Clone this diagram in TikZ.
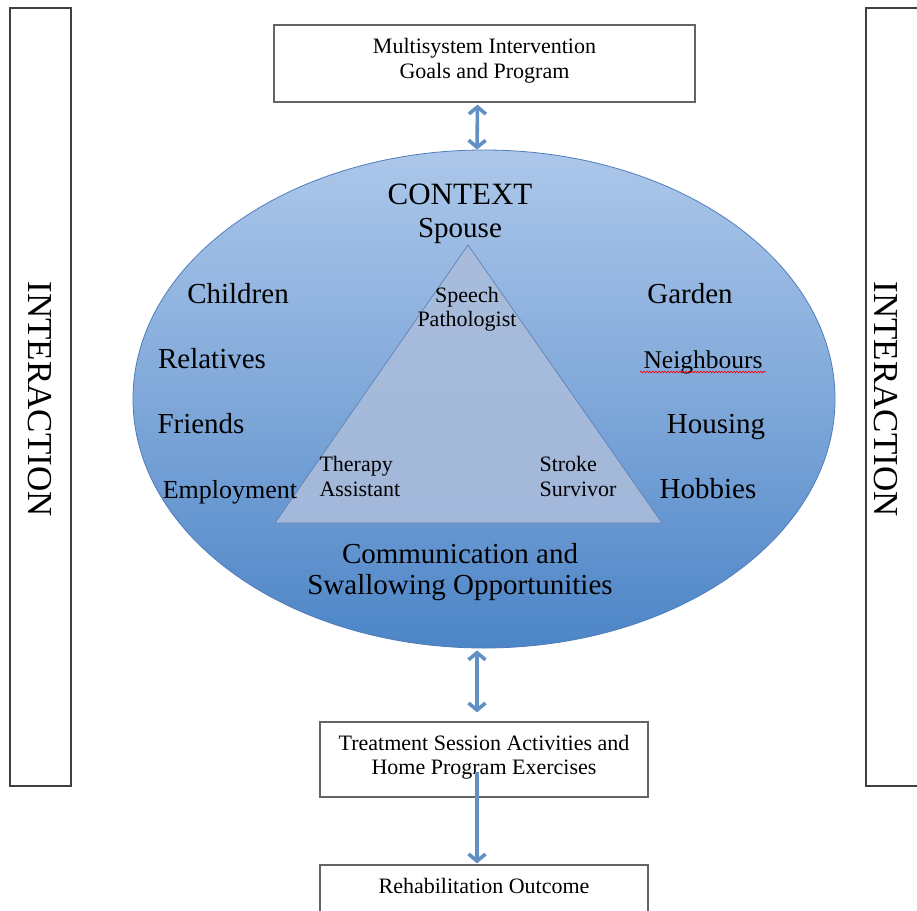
\documentclass[tikz,border=0pt]{standalone}
\usepackage{fontspec}
\setmainfont{Liberation Serif}
\usetikzlibrary{shapes.geometric,arrows.meta,decorations.pathmorphing}
\definecolor{arrblue}{RGB}{96,144,198}
\definecolor{elltop}{RGB}{172,199,234}
\definecolor{ellmid}{RGB}{128,168,217}
\definecolor{ellbot}{RGB}{76,133,199}
\definecolor{ellline}{RGB}{80,125,185}
\definecolor{trifill}{RGB}{170,188,219}
\definecolor{triline}{RGB}{95,130,185}
\definecolor{boxline}{RGB}{100,100,100}
\begin{document}
\begin{tikzpicture}[x=1pt,y=-1pt,
  box/.style={draw=boxline,line width=1.3pt,fill=white,inner sep=0pt},
  barbox/.style={draw=black!75,line width=1.6pt,fill=white,inner sep=0pt},
  arr/.style={draw=arrblue,line width=3.6pt},
  tip/.tip={Straight Barb[length=7pt,width=17pt,line width=3.6pt]},
  boxtext/.style={anchor=base,font=\fontsize{22}{26}\selectfont},
  tritext/.style={anchor=base,font=\fontsize{22}{26}\selectfont},
  sideword/.style={anchor=base,font=\fontsize{29}{33}\selectfont},
  bigtext/.style={anchor=base,font=\fontsize{29}{33}\selectfont},
  bartext/.style={rotate=-90,font=\fontsize{35}{40}\selectfont}
]
\useasboundingbox (0,0) rectangle (917,910);

% side bars
\node[barbox,minimum width=61pt,minimum height=778pt] (lbar) at (40.5,397) {};
\node[bartext] (ltext) at (40,399) {INTERACTION};
\node[barbox,minimum width=100pt,minimum height=778pt] (rbar) at (916,397) {};
\node[bartext] (rtext) at (886,399) {INTERACTION};

% top box
\node[box,minimum width=421pt,minimum height=77pt] (box1) at (484.5,63.5) {};
\node[boxtext] (t1a) at (484.5,53) {Multisystem Intervention};
\node[boxtext] (t1b) at (484.5,78) {Goals and Program};

% context ellipse
\node[ellipse,draw=ellline,line width=0.8pt,top color=elltop,bottom color=ellbot,middle color=ellmid,
      minimum width=702pt,minimum height=498pt,inner sep=0pt] (ell) at (484,399) {};

% triangle
\coordinate (apex) at (468,245);
\coordinate (bl) at (275,523);
\coordinate (br) at (662,523);
\draw[draw=triline,line width=0.7pt,fill=trifill,fill opacity=0.9] (apex) -- (bl) -- (br) -- cycle;

\node[anchor=base,font=\fontsize{31}{36}\selectfont] (context) at (460,204) {CONTEXT};
\node[bigtext] (spouse) at (460,237) {Spouse};

\node[tritext] (sp1) at (467,302) {Speech};
\node[tritext] (sp2) at (467,326) {Pathologist};
\node[tritext,anchor=base west] (ta1) at (316,471) {Therapy};
\node[tritext,anchor=base west] (ta2) at (316,496) {Assistant};
\node[tritext,anchor=base west] (ss1) at (536,471) {Stroke};
\node[tritext,anchor=base west] (ss2) at (536,496) {Survivor};

\node[sideword] (children) at (238,303) {Children};
\node[sideword] (relatives) at (212,368) {Relatives};
\node[sideword] (friends) at (201,433) {Friends};
\node[sideword,font=\fontsize{26}{30}\selectfont] (employment) at (230,498) {Employment};
\node[sideword] (garden) at (690,303) {Garden};
\node[sideword,font=\fontsize{25.5}{30}\selectfont] (neigh) at (703,368) {Neighbours};
\draw[red,line width=0.6pt,decorate,decoration={snake,amplitude=0.9pt,segment length=3pt}]
  ([yshift=-4pt]neigh.base west) -- ([yshift=-4pt]neigh.base east);
\node[sideword] (housing) at (716,433) {Housing};
\node[sideword] (hobbies) at (708,498) {Hobbies};

\node[bigtext] (comm1) at (460,563) {Communication and};
\node[bigtext] (comm2) at (460,594) {Swallowing Opportunities};

% lower boxes
\node[box,minimum width=328pt,minimum height=75pt] (box2) at (484,759.5) {};
\node[boxtext] (t2a) at (484,750) {Treatment Session Activities and};
\node[boxtext] (t2b) at (484,774) {Home Program Exercises};
\node[box,minimum width=328pt,minimum height=95pt] (box3) at (484,912.5) {};
\node[boxtext] (t3) at (484,893) {Rehabilitation Outcome};

% arrows
\draw[arr,{tip}-{tip}] ([xshift=-7pt,yshift=-2pt]box1.south) -- ([xshift=-7pt]ell.north);
\draw[arr,{tip}-{tip}] ([xshift=-7pt,yshift=-2pt]ell.south) -- ([xshift=-7pt,yshift=9pt]box2.north);
\coordinate (mid2) at (477,772);
\draw[arr,-{tip}] (mid2) -- ([xshift=-7pt,yshift=1pt]box3.north);
\end{tikzpicture}
\end{document}
